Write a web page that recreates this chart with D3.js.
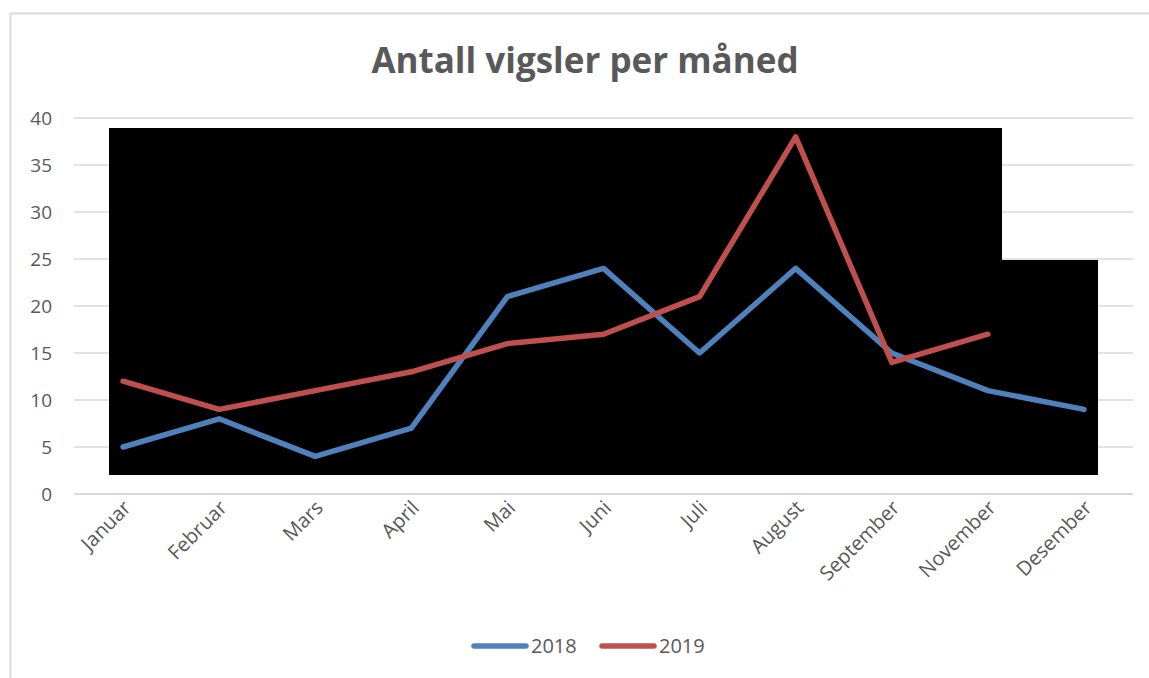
<!DOCTYPE html>
<html>
<head>
<meta charset="utf-8">
<script src="https://cdn.jsdelivr.net/npm/d3@7"></script>
<style>
    body { margin: 0; background: #ffffff; }
    svg { display: block; font-family: "Open Sans", "Noto Sans", sans-serif; }
</style>
</head>
<body>
<svg id="chart" width="1149" height="678"></svg>
<script>
var months = ["Januar", "Februar", "Mars", "April", "Mai", "Juni", "Juli", "August", "September", "November", "Desember"];
var values2018 = [5, 8, 4, 7, 21, 24, 15, 24, 15, 11, 9];
var values2019 = [12, 9, 11, 13, 16, 17, 21, 38, 14, 17];
var yTicks = [0, 5, 10, 15, 20, 25, 30, 35, 40];
var seriesNames = ["2018", "2019"];
var seriesColors = ["#4f81bd", "#c0504d"];

var svg = d3.select("#chart");

// ramme rundt diagrammet
svg.append("path")
    .attr("d", "M10.5,678 L10.5,13.5 L1149,13.5")
    .attr("fill", "none")
    .attr("stroke", "#d9d9d9")
    .attr("stroke-width", 2);

svg.append("text")
    .attr("x", 585)
    .attr("y", 73)
    .attr("text-anchor", "middle")
    .attr("font-size", 35)
    .attr("font-weight", "bold")
    .attr("fill", "#595959")
    .text("Antall vigsler per måned");

var x = d3.scaleBand()
    .domain(months)
    .range([75, 1132]);

var y = d3.scaleLinear()
    .domain([0, 40])
    .range([494, 118]);

// gridlinjer
svg.append("g")
    .selectAll("line")
    .data(yTicks.filter(function (d) { return d > 0; }))
    .enter()
    .append("line")
    .attr("x1", 74)
    .attr("x2", 1133)
    .attr("y1", function (d) { return y(d); })
    .attr("y2", function (d) { return y(d); })
    .attr("stroke", "#d9d9d9")
    .attr("stroke-width", 1.5);

// y-akse
var yAxis = svg.append("g")
    .attr("transform", "translate(74,0)")
    .call(d3.axisLeft(y).tickValues(yTicks).tickSize(0).tickPadding(22));
yAxis.select(".domain").remove();
yAxis.selectAll("text")
    .attr("font-size", 19)
    .attr("font-family", "Open Sans, sans-serif")
    .attr("fill", "#595959");

// sorte felt
var blackAreas = [
    {x: 109, y: 128, w: 893, h: 347},
    {x: 1002, y: 260, w: 96, h: 215}
];
svg.append("g")
    .selectAll("rect")
    .data(blackAreas)
    .enter()
    .append("rect")
    .attr("x", function (d) { return d.x; })
    .attr("y", function (d) { return d.y; })
    .attr("width", function (d) { return d.w; })
    .attr("height", function (d) { return d.h; })
    .attr("fill", "#000000");

// x-akse
var xAxis = svg.append("g")
    .attr("transform", "translate(0," + y(0) + ")")
    .call(d3.axisBottom(x).tickSize(0));
xAxis.select(".domain")
    .attr("stroke", "#d9d9d9")
    .attr("stroke-width", 2)
    .attr("d", "M74,0H1133");
xAxis.selectAll("text")
    .attr("font-size", 20)
    .attr("font-family", "Open Sans, sans-serif")
    .attr("fill", "#595959")
    .attr("text-anchor", "end")
    .attr("dy", "0.35em")
    .attr("transform", "translate(2,8) rotate(-45)");

var line = d3.line()
    .x(function (d, i) { return x(months[i]) + x.bandwidth() / 2; })
    .y(function (d) { return y(d); });

[values2018, values2019].forEach(function (vals, i) {
    svg.append("path")
        .datum(vals)
        .attr("d", line)
        .attr("fill", "none")
        .attr("stroke", seriesColors[i])
        .attr("stroke-width", 5.5)
        .attr("stroke-linejoin", "round")
        .attr("stroke-linecap", "round");
});

// legende
var legend = svg.append("g")
    .selectAll("g")
    .data(seriesNames)
    .enter()
    .append("g")
    .attr("transform", function (d, i) { return "translate(" + (474 + i * 128) + ",646)"; });
legend.append("line")
    .attr("x1", 0)
    .attr("x2", 52)
    .attr("stroke", function (d, i) { return seriesColors[i]; })
    .attr("stroke-width", 5.5)
    .attr("stroke-linecap", "round");
legend.append("text")
    .attr("x", 57)
    .attr("y", 7)
    .attr("font-size", 20)
    .attr("fill", "#595959")
    .text(function (d) { return d; });
</script>
</body>
</html>
